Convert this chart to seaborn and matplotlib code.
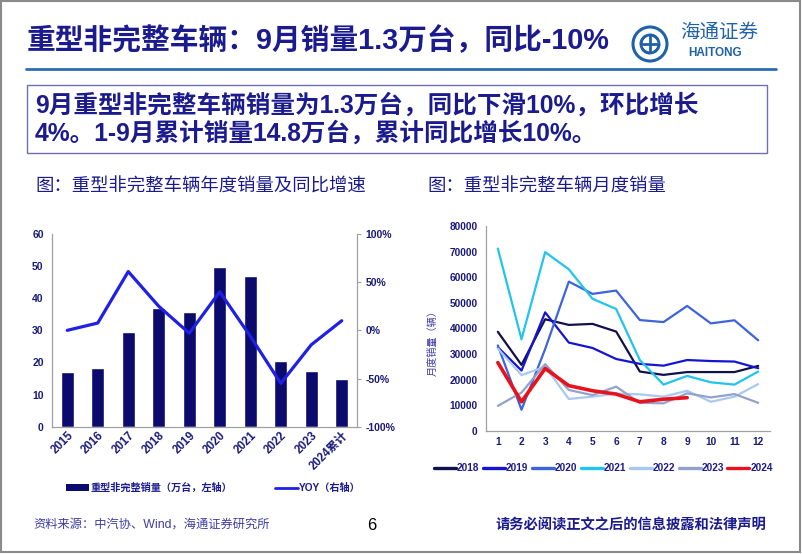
import numpy as np
import seaborn as sns
import matplotlib.pyplot as plt
from matplotlib.lines import Line2D
from matplotlib.patches import Patch, Rectangle, Circle, Arc

# ============================ DATA ====================================

years = ['2015', '2016', '2017', '2018', '2019', '2020', '2021', '2022',
         '2023', '2024累计']
annual_sales = [17.0, 18.3, 29.6, 37.1, 35.7, 49.6, 46.8, 20.6, 17.4, 14.8]
annual_yoy = [0.0, 7.6, 61.0, 25.0, -3.0, 40.0, -6.0, -55.0, -15.0, 10.0]

months = [1, 2, 3, 4, 5, 6, 7, 8, 9, 10, 11, 12]
sales_2018 = [38700, 25800, 43600, 41400, 41800, 38800, 23200, 21900, 23000,
              23000, 23000, 25400]
sales_2019 = [32700, 23600, 46300, 34500, 32400, 28100, 26200, 25500, 27700,
              27300, 27100, 24500]
sales_2020 = [33400, 8300, 32000, 58300, 53500, 54800, 43300, 42500, 48800,
              42000, 43200, 35400]
sales_2021 = [71200, 35800, 69800, 63100, 51600, 47600, 27700, 18100, 21500,
              19000, 18100, 23200]
sales_2022 = [32200, 21800, 25100, 12500, 13400, 14600, 14300, 13400, 15700,
              11400, 13400, 18300]
sales_2023 = [9800, 15000, 26100, 16000, 14000, 17300, 11000, 10800, 14700,
              13100, 14400, 11000]
sales_2024 = [26700, 11400, 24400, 17700, 15700, 14400, 11400, 12400, 13000]

monthly = {'2018': sales_2018, '2019': sales_2019, '2020': sales_2020,
           '2021': sales_2021, '2022': sales_2022, '2023': sales_2023,
           '2024': sales_2024}

# ============================ STYLE ===================================

sns.set_style('white')
plt.rcParams['font.family'] = ['Liberation Sans', 'Noto Sans CJK SC']
plt.rcParams['axes.unicode_minus'] = False

W, H = 802, 554
NAVY = '#1b1b8f'
TICK = '#1a1a7a'
GRAY = '#a0a0a0'
BAR_COLOR = '#0b0b6e'
YOY_COLOR = '#1f1fe6'
line_colors = {'2018': '#10104f', '2019': '#1414d2', '2020': '#3b64dd',
               '2021': '#20c4ef', '2022': '#a9c9f1', '2023': '#93a2cb',
               '2024': '#e8121c'}


def rect(x0, y0, x1, y1):
    """Pixel box (top-left origin) -> figure fraction rect."""
    return [x0 / W, 1 - y1 / H, (x1 - x0) / W, (y1 - y0) / H]


def style_ticks(ax, size=7.5):
    for lbl in ax.get_xticklabels() + ax.get_yticklabels():
        lbl.set_fontweight('bold')
        lbl.set_color(TICK)
        lbl.set_fontsize(size)


fig = plt.figure(figsize=(W / 100, H / 100), dpi=100)

# Background / decoration layer in pixel coordinates
bg = fig.add_axes([0, 0, 1, 1], zorder=-5)
bg.set_xlim(0, W)
bg.set_ylim(H, 0)
bg.axis('off')

bg.add_patch(Rectangle((1, 1), W - 3, H - 3, fill=False,
                       edgecolor='#8a8a8a', lw=1.5))
bg.plot([26, 776], [69, 69], color='#2b6db4', lw=2)
bg.add_patch(Rectangle((27, 85), 740, 68, fill=False,
                       edgecolor='#6d6db9', lw=1))

# Title
bg.text(27, 41, '重型非完整车辆：9月销量1.3万台，同比-10%', fontsize=20.7,
        fontweight='bold', color=NAVY, va='center', ha='left')

# Logo
LOGO = '#1f62aa'
bg.add_patch(Circle((650, 44), 17, fill=False, edgecolor=LOGO, lw=2.2))
for ang in (0, 90, 180, 270):
    bg.add_patch(Arc((650, 44), 18, 18, angle=ang, theta1=0, theta2=150,
                     edgecolor=LOGO, lw=2))
bg.plot([642, 658], [44, 44], color=LOGO, lw=2)
bg.plot([650, 650], [36, 52], color=LOGO, lw=2)
bg.text(680, 33, '海通证券', fontsize=14, color=LOGO, va='center',
        ha='left')
bg.text(688, 53, 'HAITONG', fontsize=8.5, fontweight='bold', color=LOGO,
        va='center', ha='left')

# Summary box text
bg.text(35, 105, '9月重型非完整车辆销量为1.3万台，同比下滑10%，环比增长',
        fontsize=17.7, fontweight='bold', color=NAVY, va='center')
bg.text(35, 133, '4%。1-9月累计销量14.8万台，累计同比增长10%。',
        fontsize=17.7, fontweight='bold', color=NAVY, va='center')

# Chart titles
bg.text(35, 187, '图：重型非完整车辆年度销量及同比增速', fontsize=13.2,
        color=NAVY, va='center')
bg.text(427, 187, '图：重型非完整车辆月度销量', fontsize=13.2,
        color=NAVY, va='center')

# Footer
bg.text(33, 525, '资料来源：中汽协、Wind，海通证券研究所', fontsize=8.8,
        color='#3c3ca0', va='center')
bg.text(372, 525, '6', fontsize=12, color='black', va='center', ha='center')
bg.text(496, 525, '请务必阅读正文之后的信息披露和法律声明', fontsize=10.3,
        fontweight='bold', color=NAVY, va='center')

# ========================= LEFT CHART =================================

ax1 = fig.add_axes(rect(52, 234, 357, 426.7))
sns.barplot(x=years, y=annual_sales, color=BAR_COLOR, saturation=1,
            width=0.44, ax=ax1)
ax1.set_xlim(-0.5, len(years) - 0.5)
ax1.set_ylim(0, 60)
ax1.set_yticks(np.arange(0, 61, 10))
ax1.set_xticks(np.arange(len(years)))
ax1.set_xticklabels(years)
ax1.set_xticks(np.arange(len(years) + 1) - 0.5, minor=True)
ax1.tick_params(axis='x', which='major', length=0, pad=2)
ax1.tick_params(axis='x', which='minor', length=3, color=GRAY, width=0.8)
ax1.tick_params(axis='y', length=3, color=GRAY, width=0.8, pad=3)
style_ticks(ax1)
for lbl in ax1.get_xticklabels():
    lbl.set_fontsize(8.3)
    lbl.set_rotation(45)
    lbl.set_ha('right')
    lbl.set_va('top')
    lbl.set_rotation_mode('anchor')
for side in ('top', 'right'):
    ax1.spines[side].set_visible(False)
for side in ('left', 'bottom'):
    ax1.spines[side].set_color(GRAY)
    ax1.spines[side].set_linewidth(0.9)
ax1.set_xlabel('')
ax1.set_ylabel('')

ax2 = fig.add_axes(rect(52, 234, 357, 426.7))
ax2.patch.set_alpha(0)
sns.lineplot(x=np.arange(len(years)), y=annual_yoy, color=YOY_COLOR,
             lw=2.3, ax=ax2)
ax2.set_xlim(-0.5, len(years) - 0.5)
ax2.set_ylim(-100, 100)
ax2.yaxis.tick_right()
ax2.set_yticks([-100, -50, 0, 50, 100])
ax2.set_yticklabels([f'{v}%' for v in [-100, -50, 0, 50, 100]])
ax2.set_xticks([])
ax2.tick_params(axis='y', length=3, color=GRAY, width=0.8, pad=3)
style_ticks(ax2)
for side in ('top', 'left', 'bottom'):
    ax2.spines[side].set_visible(False)
ax2.spines['right'].set_color(GRAY)
ax2.spines['right'].set_linewidth(0.9)

left_handles = [Patch(facecolor=BAR_COLOR, edgecolor='none'),
                Line2D([], [], color=YOY_COLOR, lw=2)]
leg1 = fig.legend(left_handles, ['重型非完整销量（万台，左轴）', 'YOY（右轴）'],
                  loc='center', bbox_to_anchor=(213.5 / W, 1 - 488 / H),
                  ncol=2, frameon=False, fontsize=7.3, handlelength=2.3,
                  handletextpad=0.1, columnspacing=4.2)
for t in leg1.get_texts():
    t.set_color(NAVY)
    t.set_fontweight('bold')

# ========================= RIGHT CHART ================================

ax3 = fig.add_axes(rect(486, 226, 770, 431))
for yr, vals in monthly.items():
    sns.lineplot(x=months[:len(vals)], y=vals, color=line_colors[yr],
                 lw=2.6 if yr == '2024' else 1.6, ax=ax3)
ax3.set_xlim(0.5, 12.5)
ax3.set_ylim(0, 80000)
ax3.set_yticks(np.arange(0, 80001, 10000))
ax3.set_xticks(months)
ax3.set_xticks(np.arange(0.5, 13, 1), minor=True)
ax3.tick_params(axis='x', which='major', length=0, pad=4)
ax3.tick_params(axis='x', which='minor', length=3, color=GRAY, width=0.8)
ax3.tick_params(axis='y', length=3, color=GRAY, width=0.8, pad=3)
style_ticks(ax3, size=7.3)
for side in ('top', 'right'):
    ax3.spines[side].set_visible(False)
for side in ('left', 'bottom'):
    ax3.spines[side].set_color(GRAY)
    ax3.spines[side].set_linewidth(0.9)
ax3.set_xlabel('')
ax3.set_ylabel('月度销量（辆）', fontsize=7.3, color='#3a3aa8')
ax3.yaxis.set_label_coords(-0.172, 0.44)

right_handles = [Line2D([], [], color=line_colors[yr], lw=2.4)
                 for yr in monthly]
leg2 = fig.legend(right_handles, list(monthly), loc='center',
                  bbox_to_anchor=(603.5 / W, 1 - 468 / H), ncol=7,
                  frameon=False, fontsize=7.2, handlelength=2.2,
                  handletextpad=0.1, columnspacing=0.35)
for t in leg2.get_texts():
    t.set_color(NAVY)
    t.set_fontweight('bold')

fig.savefig('out.png', dpi=100)
